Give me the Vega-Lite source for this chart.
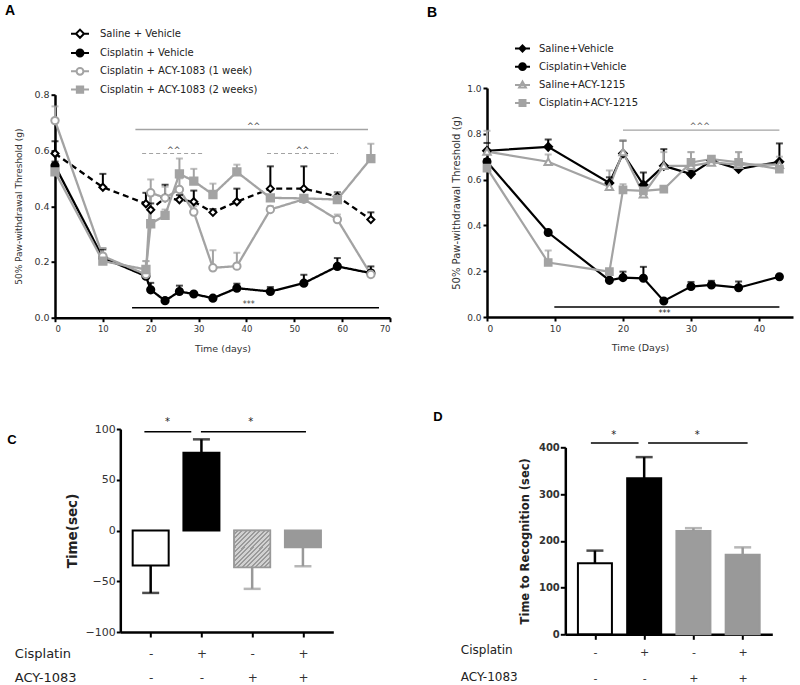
{
  "$schema": "https://vega.github.io/schema/vega-lite/v6.json",
  "padding": {"left": 5, "top": 3, "right": 5, "bottom": 0},
  "background": "white",
  "config": {
    "view": {"stroke": null},
    "font": "DejaVu Sans",
    "axis": {"grid": false, "domainColor": "#000", "tickColor": "#000", "labelColor": "#333", "titleColor": "#333", "titleFontWeight": "normal", "domainWidth": 2.5, "tickWidth": 2, "tickSize": 4, "labelFont": "DejaVu Sans", "titleFont": "DejaVu Sans"},
    "legend": {"labelFont": "DejaVu Sans", "labelColor": "#222", "labelLimit": 400}
  },
  "resolve": {
    "scale": {"color": "independent", "fill": "independent", "stroke": "independent", "shape": "independent", "size": "independent", "strokeDash": "independent"},
    "legend": {"color": "independent", "fill": "independent", "stroke": "independent", "shape": "independent", "size": "independent", "strokeDash": "independent"}
  },
  "datasets": {
    "a": [
      {"day":0,"group":"Saline + Vehicle","m":0.589,"u":0.633},
      {"day":10,"group":"Saline + Vehicle","m":0.468,"u":0.516},
      {"day":19,"group":"Saline + Vehicle","m":0.409,"u":0.448},
      {"day":20,"group":"Saline + Vehicle","m":0.387,"u":0.41},
      {"day":23,"group":"Saline + Vehicle","m":0.43,"u":0.477},
      {"day":26,"group":"Saline + Vehicle","m":0.423,"u":0.44},
      {"day":29,"group":"Saline + Vehicle","m":0.416,"u":0.456},
      {"day":33,"group":"Saline + Vehicle","m":0.378,"u":0.39},
      {"day":38,"group":"Saline + Vehicle","m":0.416,"u":0.463},
      {"day":45,"group":"Saline + Vehicle","m":0.463,"u":0.543},
      {"day":52,"group":"Saline + Vehicle","m":0.463,"u":0.543},
      {"day":59,"group":"Saline + Vehicle","m":0.435,"u":0.45},
      {"day":66,"group":"Saline + Vehicle","m":0.352,"u":0.378},
      {"day":0,"group":"Cisplatin + Vehicle","m":0.545,"u":0.56},
      {"day":10,"group":"Cisplatin + Vehicle","m":0.215,"u":0.245},
      {"day":19,"group":"Cisplatin + Vehicle","m":0.149,"u":0.16},
      {"day":20,"group":"Cisplatin + Vehicle","m":0.1,"u":0.125},
      {"day":23,"group":"Cisplatin + Vehicle","m":0.061,"u":0.07},
      {"day":26,"group":"Cisplatin + Vehicle","m":0.094,"u":0.115},
      {"day":29,"group":"Cisplatin + Vehicle","m":0.085,"u":0.09},
      {"day":33,"group":"Cisplatin + Vehicle","m":0.07,"u":0.075},
      {"day":38,"group":"Cisplatin + Vehicle","m":0.106,"u":0.122},
      {"day":45,"group":"Cisplatin + Vehicle","m":0.094,"u":0.11},
      {"day":52,"group":"Cisplatin + Vehicle","m":0.124,"u":0.154},
      {"day":59,"group":"Cisplatin + Vehicle","m":0.184,"u":0.214},
      {"day":66,"group":"Cisplatin + Vehicle","m":0.16,"u":0.184},
      {"day":0,"group":"Cisplatin + ACY-1083 (1 week)","m":0.707,"u":0.758},
      {"day":10,"group":"Cisplatin + ACY-1083 (1 week)","m":0.221,"u":0.25},
      {"day":19,"group":"Cisplatin + ACY-1083 (1 week)","m":0.155,"u":0.203},
      {"day":20,"group":"Cisplatin + ACY-1083 (1 week)","m":0.448,"u":0.496},
      {"day":23,"group":"Cisplatin + ACY-1083 (1 week)","m":0.43,"u":0.47},
      {"day":26,"group":"Cisplatin + ACY-1083 (1 week)","m":0.46,"u":0.5},
      {"day":29,"group":"Cisplatin + ACY-1083 (1 week)","m":0.379,"u":0.4},
      {"day":33,"group":"Cisplatin + ACY-1083 (1 week)","m":0.179,"u":0.242},
      {"day":38,"group":"Cisplatin + ACY-1083 (1 week)","m":0.185,"u":0.233},
      {"day":45,"group":"Cisplatin + ACY-1083 (1 week)","m":0.388,"u":0.4},
      {"day":52,"group":"Cisplatin + ACY-1083 (1 week)","m":0.425,"u":0.44},
      {"day":59,"group":"Cisplatin + ACY-1083 (1 week)","m":0.352,"u":0.37},
      {"day":66,"group":"Cisplatin + ACY-1083 (1 week)","m":0.155,"u":0.17},
      {"day":0,"group":"Cisplatin + ACY-1083 (2 weeks)","m":0.523,"u":0.55},
      {"day":10,"group":"Cisplatin + ACY-1083 (2 weeks)","m":0.203,"u":0.25},
      {"day":19,"group":"Cisplatin + ACY-1083 (2 weeks)","m":0.173,"u":0.203},
      {"day":20,"group":"Cisplatin + ACY-1083 (2 weeks)","m":0.337,"u":0.45},
      {"day":23,"group":"Cisplatin + ACY-1083 (2 weeks)","m":0.367,"u":0.388},
      {"day":26,"group":"Cisplatin + ACY-1083 (2 weeks)","m":0.516,"u":0.571},
      {"day":29,"group":"Cisplatin + ACY-1083 (2 weeks)","m":0.49,"u":0.534},
      {"day":33,"group":"Cisplatin + ACY-1083 (2 weeks)","m":0.442,"u":0.481},
      {"day":38,"group":"Cisplatin + ACY-1083 (2 weeks)","m":0.523,"u":0.549},
      {"day":45,"group":"Cisplatin + ACY-1083 (2 weeks)","m":0.43,"u":0.44},
      {"day":52,"group":"Cisplatin + ACY-1083 (2 weeks)","m":0.428,"u":0.44},
      {"day":59,"group":"Cisplatin + ACY-1083 (2 weeks)","m":0.424,"u":0.45},
      {"day":66,"group":"Cisplatin + ACY-1083 (2 weeks)","m":0.571,"u":0.624}
    ],
    "aSig": [
      {"day":16.8,"day2":65.4,"m":0.675,"k":"gs"},
      {"day":18.2,"day2":31.2,"m":0.589,"k":"gd"},
      {"day":44.3,"day2":59.1,"m":0.589,"k":"gd"},
      {"day":16.1,"day2":67.7,"m":0.036,"k":"bs"}
    ],
    "aTxt": [
      {"day":41.5,"m":0.678,"t":"^^"},
      {"day":24.8,"m":0.592,"t":"^^"},
      {"day":51.7,"m":0.592,"t":"^^"},
      {"day":40.5,"m":0.04,"t":"***"}
    ],
    "b": [
      {"day":0,"group":"Saline+Vehicle","m":0.726,"u":0.76},
      {"day":9,"group":"Saline+Vehicle","m":0.743,"u":0.775},
      {"day":18,"group":"Saline+Vehicle","m":0.585,"u":0.61},
      {"day":20,"group":"Saline+Vehicle","m":0.714,"u":0.77},
      {"day":23,"group":"Saline+Vehicle","m":0.577,"u":0.631},
      {"day":26,"group":"Saline+Vehicle","m":0.66,"u":0.733},
      {"day":30,"group":"Saline+Vehicle","m":0.624,"u":0.64},
      {"day":33,"group":"Saline+Vehicle","m":0.682,"u":0.7},
      {"day":37,"group":"Saline+Vehicle","m":0.646,"u":0.66},
      {"day":43,"group":"Saline+Vehicle","m":0.678,"u":0.758},
      {"day":0,"group":"Cisplatin+Vehicle","m":0.678,"u":0.69},
      {"day":9,"group":"Cisplatin+Vehicle","m":0.369,"u":0.375},
      {"day":18,"group":"Cisplatin+Vehicle","m":0.16,"u":0.17},
      {"day":20,"group":"Cisplatin+Vehicle","m":0.172,"u":0.198},
      {"day":23,"group":"Cisplatin+Vehicle","m":0.169,"u":0.219},
      {"day":26,"group":"Cisplatin+Vehicle","m":0.07,"u":0.075},
      {"day":30,"group":"Cisplatin+Vehicle","m":0.133,"u":0.153},
      {"day":33,"group":"Cisplatin+Vehicle","m":0.14,"u":0.158},
      {"day":37,"group":"Cisplatin+Vehicle","m":0.128,"u":0.155},
      {"day":43,"group":"Cisplatin+Vehicle","m":0.176,"u":0.18},
      {"day":0,"group":"Saline+ACY-1215","m":0.722,"u":0.813},
      {"day":9,"group":"Saline+ACY-1215","m":0.678,"u":0.71},
      {"day":18,"group":"Saline+ACY-1215","m":0.569,"u":0.64},
      {"day":20,"group":"Saline+ACY-1215","m":0.72,"u":0.77},
      {"day":23,"group":"Saline+ACY-1215","m":0.536,"u":0.56},
      {"day":26,"group":"Saline+ACY-1215","m":0.66,"u":0.72},
      {"day":30,"group":"Saline+ACY-1215","m":0.66,"u":0.72},
      {"day":33,"group":"Saline+ACY-1215","m":0.675,"u":0.7},
      {"day":37,"group":"Saline+ACY-1215","m":0.665,"u":0.72},
      {"day":43,"group":"Saline+ACY-1215","m":0.665,"u":0.7},
      {"day":0,"group":"Cisplatin+ACY-1215","m":0.65,"u":0.68},
      {"day":9,"group":"Cisplatin+ACY-1215","m":0.238,"u":0.29},
      {"day":18,"group":"Cisplatin+ACY-1215","m":0.198,"u":0.2},
      {"day":20,"group":"Cisplatin+ACY-1215","m":0.555,"u":0.58},
      {"day":23,"group":"Cisplatin+ACY-1215","m":0.551,"u":0.56},
      {"day":26,"group":"Cisplatin+ACY-1215","m":0.558,"u":0.56},
      {"day":30,"group":"Cisplatin+ACY-1215","m":0.675,"u":0.72},
      {"day":33,"group":"Cisplatin+ACY-1215","m":0.69,"u":0.7},
      {"day":37,"group":"Cisplatin+ACY-1215","m":0.675,"u":0.72},
      {"day":43,"group":"Cisplatin+ACY-1215","m":0.646,"u":0.66}
    ],
    "bSig": [
      {"day":20,"day2":43,"m":0.816,"k":"gs"},
      {"day":9.9,"day2":43,"m":0.044,"k":"bs"}
    ],
    "bTxt": [
      {"day":31.3,"m":0.82,"t":"^^^","k":"up"},
      {"day":26.1,"m":0.03,"t":"***","k":"down"}
    ],
    "c": [
      {"i":1,"v":-34.5,"e":-61.5},
      {"i":2,"v":76.7,"e":89.8},
      {"i":3,"v":-36.2,"e":-57.5},
      {"i":4,"v":-16.4,"e":-35.2}
    ],
    "cSig": [
      {"i":0.876,"i2":1.8,"v":97.4},
      {"i":1.99,"i2":4.06,"v":97.4}
    ],
    "cTxt": [
      {"i":1.33,"v":104,"t":"*"},
      {"i":2.97,"v":104,"t":"*"}
    ],
    "d": [
      {"i":1,"v":152,"e":179},
      {"i":2,"v":334,"e":379},
      {"i":3,"v":221,"e":227},
      {"i":4,"v":170,"e":186}
    ],
    "dSig": [
      {"i":0.918,"i2":1.886,"v":409},
      {"i":2.08,"i2":4.1,"v":409}
    ],
    "dTxt": [
      {"i":1.38,"v":420,"t":"*"},
      {"i":3.08,"v":420,"t":"*"}
    ],
    "blank": [{}]
  },
  "vconcat": [
    {
      "resolve": {
        "scale": {"color": "independent", "fill": "independent", "stroke": "independent", "shape": "independent", "size": "independent", "strokeDash": "independent"},
        "legend": {"color": "independent", "fill": "independent", "stroke": "independent", "shape": "independent", "size": "independent", "strokeDash": "independent"}
      },
      "spacing": 36,
      "hconcat": [
        {
          "resolve": {
            "scale": {"color": "independent", "fill": "independent", "stroke": "independent", "shape": "independent", "size": "independent", "strokeDash": "independent"},
            "legend": {"color": "independent", "fill": "independent", "stroke": "independent", "shape": "independent", "size": "independent", "strokeDash": "independent"}
          },
          "spacing": -85.3,
          "vconcat": [
            {"width": 1, "height": 1, "data": {"name": "blank"}, "mark": {"type": "point", "opacity": 0, "size": 0}},
            {
              "width": 335,
              "height": 223,
              "title": {"text": "A", "anchor": "start", "frame": "group", "dx": -50, "offset": 6, "font": "Liberation Sans", "fontSize": 14, "fontWeight": "bold", "color": "#000"},
              "resolve": {"scale": {"fill": "independent", "stroke": "independent", "shape": "independent"}},
              "layer": [
                {
                  "data": {"name": "aSig"},
                  "transform": [{"filter": "datum.k == 'gs'"}],
                  "mark": {"type": "rule", "color": "#a3a3a3", "strokeWidth": 1.5},
                  "encoding": {
                    "x": {"field": "day", "type": "quantitative", "scale": {"domain": [0, 70], "nice": false}, "axis": {"values": [0,5,10,15,20,25,30,35,40,45,50,55,60,65,70], "title": "Time (days)", "labelFontSize": 8.5, "titleFontSize": 9.5, "titleY": 30.7, "titleBaseline": "middle", "labelPadding": 3}},
                    "x2": {"field": "day2"},
                    "y": {"field": "m", "type": "quantitative", "scale": {"domain": [0, 0.8], "nice": false}, "axis": {"values": [0,0.2,0.4,0.6,0.8], "format": ".1f", "title": "50% Paw-withdrawal Threshold (g)", "titleX": -36.7, "titleBaseline": "middle", "titleFontSize": 9, "labelFontSize": 9.5, "labelPadding": 2}}
                  }
                },
                {
                  "data": {"name": "aSig"},
                  "transform": [{"filter": "datum.k == 'gd'"}],
                  "mark": {"type": "rule", "color": "#a3a3a3", "strokeWidth": 1.2, "strokeDash": [4, 3]},
                  "encoding": {"x": {"field": "day", "type": "quantitative"}, "x2": {"field": "day2"}, "y": {"field": "m", "type": "quantitative"}}
                },
                {
                  "data": {"name": "aSig"},
                  "transform": [{"filter": "datum.k == 'bs'"}],
                  "mark": {"type": "rule", "color": "#000", "strokeWidth": 1.5},
                  "encoding": {"x": {"field": "day", "type": "quantitative"}, "x2": {"field": "day2"}, "y": {"field": "m", "type": "quantitative"}}
                },
                {
                  "data": {"name": "aTxt"},
                  "mark": {"type": "text", "fontSize": 8, "color": "#444", "baseline": "alphabetic"},
                  "encoding": {"x": {"field": "day", "type": "quantitative"}, "y": {"field": "m", "type": "quantitative"}, "text": {"field": "t"}}
                },
                {
                  "data": {"name": "a"},
                  "mark": {"type": "line", "strokeWidth": 2.3},
                  "encoding": {
                    "x": {"field": "day", "type": "quantitative"},
                    "y": {"field": "m", "type": "quantitative"},
                    "color": {"field": "group", "type": "nominal", "scale": {"range": ["#a3a3a3", "#a3a3a3", "#000", "#000"]}, "legend": null},
                    "strokeDash": {"field": "group", "type": "nominal", "scale": {"range": [[1, 0], [1, 0], [1, 0], [6, 4]]}, "legend": null}
                  }
                },
                {
                  "data": {"name": "a"},
                  "mark": {"type": "rule", "strokeWidth": 2},
                  "encoding": {
                    "x": {"field": "day", "type": "quantitative"},
                    "y": {"field": "m", "type": "quantitative"},
                    "y2": {"field": "u"},
                    "color": {"field": "group", "type": "nominal", "legend": null}
                  }
                },
                {
                  "data": {"name": "a"},
                  "mark": {"type": "tick", "orient": "horizontal", "size": 7, "thickness": 2},
                  "encoding": {
                    "x": {"field": "day", "type": "quantitative"},
                    "y": {"field": "u", "type": "quantitative"},
                    "color": {"field": "group", "type": "nominal", "legend": null}
                  }
                },
                {
                  "data": {"name": "a"},
                  "mark": {"type": "point", "filled": true, "strokeWidth": 2, "opacity": 1},
                  "encoding": {
                    "x": {"field": "day", "type": "quantitative"},
                    "y": {"field": "m", "type": "quantitative"},
                    "size": {"field": "group", "type": "nominal", "scale": {"range": [55, 50, 55, 70]}, "legend": null},
                    "shape": {"field": "group", "type": "nominal", "scale": {"range": ["circle", "square", "circle", "diamond"]}, "legend": null},
                    "fill": {"field": "group", "type": "nominal", "scale": {"range": ["#fff", "#a3a3a3", "#000", "#fff"]}, "legend": null},
                    "stroke": {"field": "group", "type": "nominal", "scale": {"range": ["#a3a3a3", "#a3a3a3", "#000", "#000"]}, "legend": null}
                  }
                },
                {
                  "data": {"name": "a"},
                  "mark": {"type": "point", "filled": true, "strokeWidth": 2, "opacity": 0},
                  "encoding": {
                    "x": {"field": "day", "type": "quantitative"},
                    "y": {"field": "m", "type": "quantitative"},
                    "fill": {"field": "group", "type": "nominal", "scale": {"domain": ["Saline + Vehicle", "Cisplatin + Vehicle", "Cisplatin + ACY-1083 (1 week)", "Cisplatin + ACY-1083 (2 weeks)"], "range": ["#fff", "#000", "#fff", "#a3a3a3"]},
                      "legend": {"orient": "none", "legendX": 15, "legendY": -71, "title": null, "symbolSize": 324, "symbolStrokeWidth": 2, "symbolOpacity": 1, "labelFontSize": 10, "labelOffset": 10, "rowPadding": 0.3}},
                    "stroke": {"field": "group", "type": "nominal", "scale": {"domain": ["Saline + Vehicle", "Cisplatin + Vehicle", "Cisplatin + ACY-1083 (1 week)", "Cisplatin + ACY-1083 (2 weeks)"], "range": ["#000", "#000", "#a3a3a3", "#a3a3a3"]},
                      "legend": {"orient": "none", "legendX": 15, "legendY": -71, "title": null, "symbolSize": 324, "symbolStrokeWidth": 2, "symbolOpacity": 1, "labelFontSize": 10, "labelOffset": 10, "rowPadding": 0.3}},
                    "shape": {"field": "group", "type": "nominal", "scale": {"domain": ["Saline + Vehicle", "Cisplatin + Vehicle", "Cisplatin + ACY-1083 (1 week)", "Cisplatin + ACY-1083 (2 weeks)"], "range": ["M-1,0L-0.45,0M0.45,0L1,0M0,-0.45L0.45,0L0,0.45L-0.45,0Z", "M-1,0L-0.38,0M0.38,0L1,0M-0.38,0A0.38,0.38,0,1,0,0.38,0A0.38,0.38,0,1,0,-0.38,0Z", "M-1,0L-0.38,0M0.38,0L1,0M-0.38,0A0.38,0.38,0,1,0,0.38,0A0.38,0.38,0,1,0,-0.38,0Z", "M-1,0L-0.35,0M0.35,0L1,0M-0.35,-0.35L0.35,-0.35L0.35,0.35L-0.35,0.35Z"]},
                      "legend": {"orient": "none", "legendX": 15, "legendY": -71, "title": null, "symbolSize": 324, "symbolStrokeWidth": 2, "symbolOpacity": 1, "labelFontSize": 10, "labelOffset": 10, "rowPadding": 0.3}}
                  }
                }
              ]
            }
          ]
        },
        {
          "width": 306,
          "height": 229,
          "title": {"text": "B", "anchor": "start", "frame": "group", "dx": -60, "offset": 20, "font": "Liberation Sans", "fontSize": 14, "fontWeight": "bold", "color": "#000"},
          "resolve": {"scale": {"fill": "independent", "stroke": "independent", "shape": "independent"}},
          "layer": [
            {
              "data": {"name": "bSig"},
              "transform": [{"filter": "datum.k == 'gs'"}],
              "mark": {"type": "rule", "color": "#a3a3a3", "strokeWidth": 1.3},
              "encoding": {
                "x": {"field": "day", "type": "quantitative", "scale": {"domain": [0, 45], "nice": false}, "axis": {"values": [0,5,10,15,20,25,30,35,40,45], "title": "Time (Days)", "labelFontSize": 9, "titleFontSize": 9.5, "titleY": 30.7, "titleBaseline": "middle", "labelPadding": 3}},
                "x2": {"field": "day2"},
                "y": {"field": "m", "type": "quantitative", "scale": {"domain": [0, 1], "nice": false}, "axis": {"values": [0,0.2,0.4,0.6,0.8,1.0], "format": ".1f", "title": "50% Paw-withdrawal Threshold (g)", "titleX": -31, "titleBaseline": "middle", "titleFontSize": 10, "labelFontSize": 9, "labelPadding": 2}}
              }
            },
            {
              "data": {"name": "bSig"},
              "transform": [{"filter": "datum.k == 'bs'"}],
              "mark": {"type": "rule", "color": "#000", "strokeWidth": 1.5},
              "encoding": {"x": {"field": "day", "type": "quantitative"}, "x2": {"field": "day2"}, "y": {"field": "m", "type": "quantitative"}}
            },
            {
              "data": {"name": "bTxt"},
              "transform": [{"filter": "datum.k == 'up'"}],
              "mark": {"type": "text", "fontSize": 8, "color": "#555", "baseline": "alphabetic"},
              "encoding": {"x": {"field": "day", "type": "quantitative"}, "y": {"field": "m", "type": "quantitative"}, "text": {"field": "t"}}
            },
            {
              "data": {"name": "bTxt"},
              "transform": [{"filter": "datum.k == 'down'"}],
              "mark": {"type": "text", "fontSize": 8, "color": "#222", "baseline": "top"},
              "encoding": {"x": {"field": "day", "type": "quantitative"}, "y": {"field": "m", "type": "quantitative"}, "text": {"field": "t"}}
            },
            {
              "data": {"name": "b"},
              "mark": {"type": "line", "strokeWidth": 2.2},
              "encoding": {
                "x": {"field": "day", "type": "quantitative"},
                "y": {"field": "m", "type": "quantitative"},
                "color": {"field": "group", "type": "nominal", "scale": {"range": ["#a3a3a3", "#000", "#a3a3a3", "#000"]}, "legend": null}
              }
            },
            {
              "data": {"name": "b"},
              "mark": {"type": "rule", "strokeWidth": 2},
              "encoding": {
                "x": {"field": "day", "type": "quantitative"},
                "y": {"field": "m", "type": "quantitative"},
                "y2": {"field": "u"},
                "color": {"field": "group", "type": "nominal", "legend": null}
              }
            },
            {
              "data": {"name": "b"},
              "mark": {"type": "tick", "orient": "horizontal", "size": 7, "thickness": 2},
              "encoding": {
                "x": {"field": "day", "type": "quantitative"},
                "y": {"field": "u", "type": "quantitative"},
                "color": {"field": "group", "type": "nominal", "legend": null}
              }
            },
            {
              "data": {"name": "b"},
              "mark": {"type": "point", "filled": true, "strokeWidth": 2, "opacity": 1},
              "encoding": {
                "x": {"field": "day", "type": "quantitative"},
                "y": {"field": "m", "type": "quantitative"},
                "size": {"field": "group", "type": "nominal", "scale": {"range": [45, 60, 60, 36]}, "legend": null},
                "shape": {"field": "group", "type": "nominal", "scale": {"range": ["square", "circle", "triangle-up", "diamond"]}, "legend": null},
                "fill": {"field": "group", "type": "nominal", "scale": {"range": ["#a3a3a3", "#000", "#fff", "#000"]}, "legend": null},
                "stroke": {"field": "group", "type": "nominal", "scale": {"range": ["#a3a3a3", "#000", "#a3a3a3", "#000"]}, "legend": null}
              }
            },
            {
              "data": {"name": "b"},
              "mark": {"type": "point", "filled": true, "strokeWidth": 2, "opacity": 0},
              "encoding": {
                "x": {"field": "day", "type": "quantitative"},
                "y": {"field": "m", "type": "quantitative"},
                "fill": {"field": "group", "type": "nominal", "scale": {"domain": ["Saline+Vehicle", "Cisplatin+Vehicle", "Saline+ACY-1215", "Cisplatin+ACY-1215"], "range": ["#000", "#000", "#fff", "#a3a3a3"]},
                  "legend": {"orient": "none", "legendX": 27, "legendY": -48, "title": null, "symbolSize": 225, "symbolStrokeWidth": 2, "symbolOpacity": 1, "labelFontSize": 10, "labelOffset": 8, "rowPadding": 2.2}},
                "stroke": {"field": "group", "type": "nominal", "scale": {"domain": ["Saline+Vehicle", "Cisplatin+Vehicle", "Saline+ACY-1215", "Cisplatin+ACY-1215"], "range": ["#000", "#000", "#a3a3a3", "#a3a3a3"]},
                  "legend": {"orient": "none", "legendX": 27, "legendY": -48, "title": null, "symbolSize": 225, "symbolStrokeWidth": 2, "symbolOpacity": 1, "labelFontSize": 10, "labelOffset": 8, "rowPadding": 2.2}},
                "shape": {"field": "group", "type": "nominal", "scale": {"domain": ["Saline+Vehicle", "Cisplatin+Vehicle", "Saline+ACY-1215", "Cisplatin+ACY-1215"], "range": ["M-1,0L1,0M0,-0.4L0.4,0L0,0.4L-0.4,0Z", "M-1,0L1,0M-0.45,0A0.45,0.45,0,1,0,0.45,0A0.45,0.45,0,1,0,-0.45,0Z", "M-1,0L1,0M0,-0.45L0.45,0.35L-0.45,0.35Z", "M-1,0L1,0M-0.4,-0.4L0.4,-0.4L0.4,0.4L-0.4,0.4Z"]},
                  "legend": {"orient": "none", "legendX": 27, "legendY": -48, "title": null, "symbolSize": 225, "symbolStrokeWidth": 2, "symbolOpacity": 1, "labelFontSize": 10, "labelOffset": 8, "rowPadding": 2.2}}
              }
            }
          ]
        }
      ]
    },
    {
      "resolve": {
        "scale": {"color": "independent", "fill": "independent", "stroke": "independent", "shape": "independent", "size": "independent", "strokeDash": "independent"},
        "legend": {"color": "independent", "fill": "independent", "stroke": "independent", "shape": "independent", "size": "independent", "strokeDash": "independent"}
      },
      "spacing": -48.7,
      "hconcat": [
        {"width": 1, "height": 1, "data": {"name": "blank"}, "mark": {"type": "point", "opacity": 0, "size": 0}},
        {
          "resolve": {
            "scale": {"color": "independent", "fill": "independent", "stroke": "independent", "shape": "independent", "size": "independent", "strokeDash": "independent"},
            "legend": {"color": "independent", "fill": "independent", "stroke": "independent", "shape": "independent", "size": "independent", "strokeDash": "independent"}
          },
          "spacing": 100,
          "hconcat": [
            {
              "width": 213,
              "height": 203,
              "title": {"text": "C", "anchor": "start", "frame": "group", "dx": -113, "dy": 30, "offset": 0, "font": "Liberation Sans", "fontSize": 13, "fontWeight": "bold", "color": "#000"},
              "layer": [
                {
                  "data": {"name": "c"},
                  "mark": {"type": "bar", "orient": "vertical", "size": 36, "strokeWidth": 2},
                  "encoding": {
                    "x": {"field": "i", "type": "quantitative", "scale": {"domain": [0.5, 4.5], "nice": false, "zero": false},
                      "axis": {"values": [1, 2, 3, 4], "labelExpr": "datum.value == 1 ? ['-','-'] : datum.value == 2 ? ['+','-'] : datum.value == 3 ? ['-','+'] : ['+','+']", "labelFontSize": 12, "labelLineHeight": 24.5, "labelPadding": 11, "labelBaseline": "top", "labelColor": "#333", "tickSize": 5,
                        "title": ["Cisplatin", "ACY-1083"], "titleAngle": 0, "titleAlign": "left", "titleBaseline": "top", "titleX": -106, "titleY": 15, "titleFontSize": 13, "titleLineHeight": 24.5, "titleColor": "#222"}},
                    "y": {"field": "v", "type": "quantitative", "scale": {"domain": [-100, 100], "nice": false},
                      "axis": {"values": [-100, -50, 0, 50, 100], "title": "Time(sec)", "titleFontWeight": "bold", "titleFontSize": 13.5, "titleColor": "#222", "titleX": -48, "titleBaseline": "middle", "labelFontSize": 11, "labelPadding": 1, "tickSize": 4}},
                    "fill": {"field": "i", "type": "nominal", "scale": {"domain": [1, 2, 3, 4], "range": ["#fff", "#000", "#b0b0b0", "#999"]}, "legend": null},
                    "stroke": {"field": "i", "type": "nominal", "scale": {"domain": [1, 2, 3, 4], "range": ["#000", "#000", "#999", "#999"]}, "legend": null}
                  }
                },
                {
                  "data": {"name": "c"},
                  "transform": [{"filter": "datum.i == 3"}],
                  "mark": {"type": "bar", "orient": "vertical", "size": 36, "stroke": "#999", "strokeWidth": 1.5,
                    "fill": {"gradient": "linear", "x1": 0, "y1": 0, "x2": 1, "y2": 1, "stops": [
                      {"offset": 0, "color": "#d2d2d2"}, {"offset": 0.034, "color": "#d2d2d2"}, {"offset": 0.034, "color": "#9a9a9a"}, {"offset": 0.0625, "color": "#9a9a9a"},
                      {"offset": 0.0625, "color": "#d2d2d2"}, {"offset": 0.0965, "color": "#d2d2d2"}, {"offset": 0.0965, "color": "#9a9a9a"}, {"offset": 0.125, "color": "#9a9a9a"},
                      {"offset": 0.125, "color": "#d2d2d2"}, {"offset": 0.159, "color": "#d2d2d2"}, {"offset": 0.159, "color": "#9a9a9a"}, {"offset": 0.1875, "color": "#9a9a9a"},
                      {"offset": 0.1875, "color": "#d2d2d2"}, {"offset": 0.2215, "color": "#d2d2d2"}, {"offset": 0.2215, "color": "#9a9a9a"}, {"offset": 0.25, "color": "#9a9a9a"},
                      {"offset": 0.25, "color": "#d2d2d2"}, {"offset": 0.284, "color": "#d2d2d2"}, {"offset": 0.284, "color": "#9a9a9a"}, {"offset": 0.3125, "color": "#9a9a9a"},
                      {"offset": 0.3125, "color": "#d2d2d2"}, {"offset": 0.3465, "color": "#d2d2d2"}, {"offset": 0.3465, "color": "#9a9a9a"}, {"offset": 0.375, "color": "#9a9a9a"},
                      {"offset": 0.375, "color": "#d2d2d2"}, {"offset": 0.409, "color": "#d2d2d2"}, {"offset": 0.409, "color": "#9a9a9a"}, {"offset": 0.4375, "color": "#9a9a9a"},
                      {"offset": 0.4375, "color": "#d2d2d2"}, {"offset": 0.4715, "color": "#d2d2d2"}, {"offset": 0.4715, "color": "#9a9a9a"}, {"offset": 0.5, "color": "#9a9a9a"},
                      {"offset": 0.5, "color": "#d2d2d2"}, {"offset": 0.534, "color": "#d2d2d2"}, {"offset": 0.534, "color": "#9a9a9a"}, {"offset": 0.5625, "color": "#9a9a9a"},
                      {"offset": 0.5625, "color": "#d2d2d2"}, {"offset": 0.5965, "color": "#d2d2d2"}, {"offset": 0.5965, "color": "#9a9a9a"}, {"offset": 0.625, "color": "#9a9a9a"},
                      {"offset": 0.625, "color": "#d2d2d2"}, {"offset": 0.659, "color": "#d2d2d2"}, {"offset": 0.659, "color": "#9a9a9a"}, {"offset": 0.6875, "color": "#9a9a9a"},
                      {"offset": 0.6875, "color": "#d2d2d2"}, {"offset": 0.7215, "color": "#d2d2d2"}, {"offset": 0.7215, "color": "#9a9a9a"}, {"offset": 0.75, "color": "#9a9a9a"},
                      {"offset": 0.75, "color": "#d2d2d2"}, {"offset": 0.784, "color": "#d2d2d2"}, {"offset": 0.784, "color": "#9a9a9a"}, {"offset": 0.8125, "color": "#9a9a9a"},
                      {"offset": 0.8125, "color": "#d2d2d2"}, {"offset": 0.8465, "color": "#d2d2d2"}, {"offset": 0.8465, "color": "#9a9a9a"}, {"offset": 0.875, "color": "#9a9a9a"},
                      {"offset": 0.875, "color": "#d2d2d2"}, {"offset": 0.909, "color": "#d2d2d2"}, {"offset": 0.909, "color": "#9a9a9a"}, {"offset": 0.9375, "color": "#9a9a9a"},
                      {"offset": 0.9375, "color": "#d2d2d2"}, {"offset": 0.9715, "color": "#d2d2d2"}, {"offset": 0.9715, "color": "#9a9a9a"}, {"offset": 1, "color": "#9a9a9a"}
                    ]}},
                  "encoding": {"x": {"field": "i", "type": "quantitative"}, "y": {"field": "v", "type": "quantitative"}}
                },
                {
                  "data": {"name": "c"},
                  "mark": {"type": "rule", "strokeWidth": 2.5},
                  "encoding": {
                    "x": {"field": "i", "type": "quantitative"},
                    "y": {"field": "v", "type": "quantitative"},
                    "y2": {"field": "e"},
                    "color": {"field": "i", "type": "nominal", "scale": {"domain": [1, 2, 3, 4], "range": ["#000", "#000", "#999", "#999"]}, "legend": null}
                  }
                },
                {
                  "data": {"name": "c"},
                  "mark": {"type": "tick", "orient": "horizontal", "size": 17, "thickness": 2.5},
                  "encoding": {
                    "x": {"field": "i", "type": "quantitative"},
                    "y": {"field": "e", "type": "quantitative"},
                    "color": {"field": "i", "type": "nominal", "legend": null}
                  }
                },
                {
                  "mark": {"type": "rule", "color": "#000", "strokeWidth": 2.5},
                  "encoding": {"y": {"datum": 0}}
                },
                {
                  "data": {"name": "cSig"},
                  "mark": {"type": "rule", "color": "#000", "strokeWidth": 1.5},
                  "encoding": {"x": {"field": "i", "type": "quantitative"}, "x2": {"field": "i2"}, "y": {"field": "v", "type": "quantitative"}}
                },
                {
                  "data": {"name": "cTxt"},
                  "mark": {"type": "text", "fontSize": 10, "color": "#222", "baseline": "alphabetic"},
                  "encoding": {"x": {"field": "i", "type": "quantitative"}, "y": {"field": "v", "type": "quantitative"}, "text": {"field": "t"}}
                }
              ]
            },
            {
              "resolve": {
                "scale": {"color": "independent", "fill": "independent", "stroke": "independent", "shape": "independent", "size": "independent", "strokeDash": "independent"},
                "legend": {"color": "independent", "fill": "independent", "stroke": "independent", "shape": "independent", "size": "independent", "strokeDash": "independent"}
              },
              "spacing": -19.7,
              "vconcat": [
                {"width": 1, "height": 1, "data": {"name": "blank"}, "mark": {"type": "point", "opacity": 0, "size": 0}},
                {
                  "width": 207,
                  "height": 187,
                  "title": {"text": "D", "anchor": "start", "frame": "group", "dx": -132, "offset": 6, "font": "Liberation Sans", "fontSize": 13, "fontWeight": "bold", "color": "#000"},
                  "layer": [
                    {
                      "data": {"name": "d"},
                      "mark": {"type": "bar", "orient": "vertical", "size": 34, "strokeWidth": 2},
                      "encoding": {
                        "x": {"field": "i", "type": "quantitative", "scale": {"domain": [0.5, 4.5], "nice": false, "zero": false},
                          "axis": {"values": [1, 2, 3, 4], "labelExpr": "datum.value == 1 ? ['-','-'] : datum.value == 2 ? ['+','-'] : datum.value == 3 ? ['-','+'] : ['+','+']", "labelFontSize": 11, "labelLineHeight": 26, "labelPadding": 7, "labelBaseline": "top", "labelColor": "#333", "tickSize": 5,
                            "title": ["Cisplatin", "ACY-1083"], "titleAngle": 0, "titleAlign": "left", "titleBaseline": "top", "titleX": -105, "titleY": 10, "titleFontSize": 12, "titleLineHeight": 27, "titleColor": "#222"}},
                        "y": {"field": "v", "type": "quantitative", "scale": {"domain": [0, 400], "nice": false},
                          "axis": {"values": [0, 100, 200, 300, 400], "title": "Time to Recognition (sec)", "titleFontWeight": "bold", "titleFontSize": 11.5, "titleColor": "#222", "titleX": -40, "titleBaseline": "middle", "labelFontSize": 10, "labelFontWeight": "bold", "labelPadding": 1, "tickSize": 5}},
                        "fill": {"field": "i", "type": "nominal", "scale": {"domain": [1, 2, 3, 4], "range": ["#fff", "#000", "#9c9c9c", "#999"]}, "legend": null},
                        "stroke": {"field": "i", "type": "nominal", "scale": {"domain": [1, 2, 3, 4], "range": ["#000", "#000", "#9c9c9c", "#999"]}, "legend": null}
                      }
                    },
                    {
                      "data": {"name": "d"},
                      "mark": {"type": "rule", "strokeWidth": 2.5},
                      "encoding": {
                        "x": {"field": "i", "type": "quantitative"},
                        "y": {"field": "v", "type": "quantitative"},
                        "y2": {"field": "e"},
                        "color": {"field": "i", "type": "nominal", "scale": {"domain": [1, 2, 3, 4], "range": ["#000", "#000", "#999", "#999"]}, "legend": null}
                      }
                    },
                    {
                      "data": {"name": "d"},
                      "mark": {"type": "tick", "orient": "horizontal", "size": 17, "thickness": 2.5},
                      "encoding": {
                        "x": {"field": "i", "type": "quantitative"},
                        "y": {"field": "e", "type": "quantitative"},
                        "color": {"field": "i", "type": "nominal", "legend": null}
                      }
                    },
                    {
                      "data": {"name": "dSig"},
                      "mark": {"type": "rule", "color": "#000", "strokeWidth": 1.5},
                      "encoding": {"x": {"field": "i", "type": "quantitative"}, "x2": {"field": "i2"}, "y": {"field": "v", "type": "quantitative"}}
                    },
                    {
                      "data": {"name": "dTxt"},
                      "mark": {"type": "text", "fontSize": 10, "color": "#222", "baseline": "alphabetic"},
                      "encoding": {"x": {"field": "i", "type": "quantitative"}, "y": {"field": "v", "type": "quantitative"}, "text": {"field": "t"}}
                    }
                  ]
                }
              ]
            }
          ]
        }
      ]
    }
  ],
  "spacing": 57
}
